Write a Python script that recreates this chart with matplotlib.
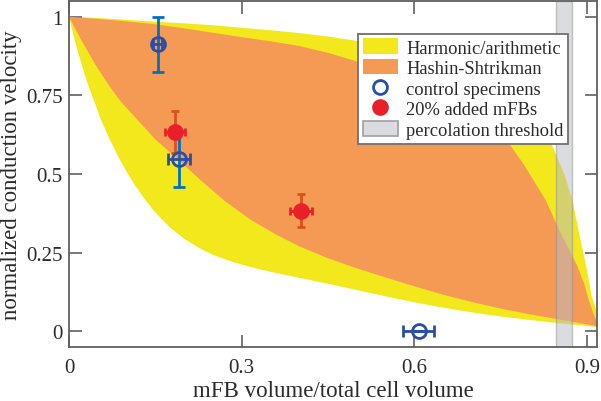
import matplotlib
matplotlib.use("Agg")
import matplotlib.pyplot as plt
from matplotlib.patches import Patch
from matplotlib.lines import Line2D

# ---- data ----
arith_x = [0, 0.05, 0.1, 0.15, 0.2, 0.25, 0.3, 0.35, 0.4, 0.45, 0.5, 0.55, 0.6, 0.65,
           0.7, 0.75, 0.8, 0.83, 0.86, 0.874, 0.885, 0.9, 0.908, 0.917, 0.92]
arith_y = [1, 0.996, 0.99, 0.984, 0.979, 0.973, 0.965, 0.957, 0.948, 0.937, 0.923, 0.905,
           0.882, 0.852, 0.815, 0.77, 0.70, 0.63, 0.50, 0.42, 0.32, 0.19, 0.11, 0.06, 0.04]

harm_x = [0, 0.01, 0.02, 0.03, 0.042, 0.055, 0.07, 0.085, 0.1, 0.115, 0.13, 0.145, 0.16,
          0.175, 0.2, 0.225, 0.25, 0.275, 0.3, 0.325, 0.35, 0.4, 0.45, 0.5,
          0.55, 0.6, 0.65, 0.7, 0.75, 0.8, 0.85, 0.9, 0.92]
harm_y = [1, 0.925, 0.86, 0.80, 0.74, 0.675, 0.613, 0.557, 0.507, 0.463, 0.424, 0.389,
          0.358, 0.331, 0.294, 0.266, 0.243, 0.226, 0.212, 0.200, 0.189, 0.170, 0.151,
          0.131, 0.111, 0.092, 0.075, 0.06, 0.047, 0.036, 0.026, 0.017, 0.013]

hsu_x = [0, 0.05, 0.1, 0.15, 0.2, 0.25, 0.3, 0.35, 0.4, 0.45, 0.5, 0.55, 0.6, 0.65, 0.7,
         0.73, 0.763, 0.79, 0.81, 0.827, 0.853, 0.87, 0.883, 0.895, 0.902, 0.91, 0.92]
hsu_y = [1, 0.993, 0.985, 0.976, 0.963, 0.949, 0.935, 0.922, 0.907, 0.885, 0.858, 0.825,
         0.785, 0.74, 0.695, 0.655, 0.60, 0.53, 0.47, 0.42, 0.315, 0.255, 0.207, 0.15,
         0.103, 0.06, 0.015]

hsl_x = [0, 0.02, 0.045, 0.07, 0.09, 0.12, 0.15, 0.19, 0.23, 0.27, 0.315, 0.36, 0.4, 0.45,
         0.5, 0.55, 0.6, 0.65, 0.7, 0.75, 0.8, 0.85, 0.9, 0.92]
hsl_y = [1, 0.93, 0.85, 0.78, 0.73, 0.67, 0.61, 0.545, 0.478, 0.415, 0.355, 0.307, 0.27,
         0.232, 0.2, 0.171, 0.143, 0.116, 0.093, 0.072, 0.054, 0.038, 0.022, 0.015]

ctrl_x = [0.154, 0.191, 0.607]
ctrl_y = [0.912, 0.547, 0.0]
ctrl_xerr = [0.008, 0.019, 0.027]
ctrl_yerr = [0.088, 0.089, 0.0]

mfb_x = [0.184, 0.403]
mfb_y = [0.634, 0.383]
mfb_xerr = [0.018, 0.019]
mfb_yerr = [0.067, 0.053]

perc_lo, perc_hi = 0.845, 0.874

xticks = [0, 0.3, 0.6, 0.9]
xticklabels = ['0', '0.3', '0.6', '0.9']
yticks = [0, 0.25, 0.5, 0.75, 1]
yticklabels = ['0', '0.25', '0.5', '0.75', '1']

# ---- style ----
plt.rcParams['font.family'] = ['Liberation Serif', 'DejaVu Serif']
yellow = '#f2e81c'
orange = '#f59a54'
blue_dark = '#2a4ea6'
blue_bar = '#0072bd'
red = '#e8202a'
red_bar = '#d95319'
spine_c = '#606060'
text_c = '#2a2a2a'

fig = plt.figure(figsize=(6.01, 4.02), dpi=100)
ax = fig.add_axes([69/601, 54/402, 528/601, 346/402])

ax.fill(list(arith_x) + list(harm_x[::-1]), list(arith_y) + list(harm_y[::-1]),
        color=yellow, lw=0, zorder=1)
ax.fill(list(hsu_x) + list(hsl_x[::-1]), list(hsu_y) + list(hsl_y[::-1]),
        color=orange, lw=0, zorder=2)
ax.axvspan(perc_lo, perc_hi, facecolor=(0.72, 0.73, 0.76), alpha=0.5,
           edgecolor='#909090', lw=1.0, zorder=3)

# control specimens
ax.errorbar(ctrl_x, ctrl_y, yerr=ctrl_yerr, fmt='none', ecolor=blue_bar,
            elinewidth=2.0, capsize=4, capthick=2.0, zorder=4)
ax.errorbar(ctrl_x, ctrl_y, xerr=ctrl_xerr, fmt='none', ecolor=blue_dark,
            elinewidth=2.0, capsize=4, capthick=2.0, zorder=5)
ax.plot(ctrl_x, ctrl_y, 'o', mfc='none', mec=blue_dark, mew=2.0, ms=10, zorder=6)

# 20% added mFBs
ax.errorbar(mfb_x, mfb_y, yerr=mfb_yerr, fmt='none', ecolor=red_bar,
            elinewidth=2.0, capsize=3, capthick=2.0, zorder=4)
ax.plot(mfb_x, mfb_y, 'o', color=red, ms=12, mew=0, zorder=6)
ax.errorbar(mfb_x, mfb_y, xerr=mfb_xerr, fmt='none', ecolor=red,
            elinewidth=2.0, capsize=3, capthick=2.0, zorder=7)

ax.set_xlim(0, 0.917)
ax.set_ylim(-0.05, 1.05)
ax.set_xticks(xticks)
ax.set_xticklabels(xticklabels)
ax.set_yticks(yticks)
ax.set_yticklabels(yticklabels)
ax.tick_params(direction='in', length=9, width=1.2, color=spine_c, top=True,
               right=True, labelsize=15, labelcolor=text_c)
ax.tick_params(axis='x', pad=8)
ax.tick_params(axis='y', pad=4.5)
for s in ax.spines.values():
    s.set_color(spine_c)
    s.set_linewidth(1.3)
    s.set_zorder(10)

ax.set_xlabel('mFB volume/total cell volume', fontsize=16.5, color=text_c, labelpad=2)
ax.set_ylabel('normalized conduction velocity', fontsize=16.5, color=text_c, labelpad=3)

handles = [
    Patch(facecolor=yellow, edgecolor='none'),
    Patch(facecolor=orange, edgecolor='none'),
    Line2D([], [], ls='none', marker='o', mfc='none', mec=blue_dark, mew=2.0, ms=10),
    Line2D([], [], ls='none', marker='o', color=red, ms=12, mew=0),
    Patch(facecolor=(0.85, 0.86, 0.88), edgecolor='#a0a0a0', lw=1.2),
]
labels = ['Harmonic/arithmetic', 'Hashin-Shtrikman', 'control specimens',
          '20% added mFBs', 'percolation threshold']
leg = ax.legend(handles, labels, loc='upper right', bbox_to_anchor=(0.945, 0.905),
                borderaxespad=0, fancybox=False, framealpha=1, edgecolor='#707070',
                fontsize=13.3, handlelength=1.9, handleheight=0.9, handletextpad=0.45,
                labelspacing=0.14, borderpad=0.25)
leg.get_frame().set_linewidth(1.3)
for t in leg.get_texts():
    t.set_color(text_c)
leg.set_zorder(20)

fig.savefig('out.png', dpi=100)
